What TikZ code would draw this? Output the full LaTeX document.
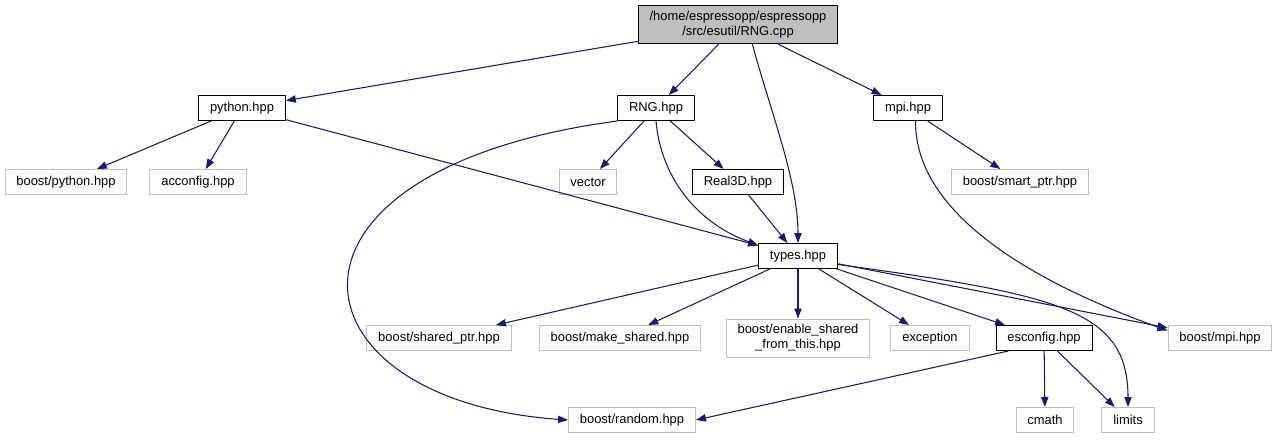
\documentclass[tikz,border=0pt]{standalone}
\usepackage{fontspec}
\setmainfont{Liberation Sans}
\usepackage{tikz}
\usepackage{xcolor}
\usetikzlibrary{arrows.meta}

\definecolor{edgeblue}{HTML}{191970}
\definecolor{extgray}{HTML}{BFBFBF}

\begin{document}
\begin{tikzpicture}[x=0.75pt, y=-0.75pt,
  every node/.style={font=\fontsize{9.7}{11.25}\selectfont, inner xsep=8.5pt, inner ysep=0pt,
                     minimum height=18.75pt, line width=0.75pt},
  filebox/.style={draw=black, fill=white},
  extbox/.style={draw=extgray, fill=white},
  dep/.style={draw=edgeblue, line width=0.8pt, -{Triangle[length=7.5pt, width=5.5pt]}, fill=none}]
  \useasboundingbox (0,0) rectangle (1277,440);
  % Source file
  \node[draw=black, fill=extgray, align=center, minimum height=29pt] (root) at (738,24.5)
    {/home/espressopp/espressopp\\/src/esutil/RNG.cpp};
  % Direct includes
  \node[filebox] (python) at (242,108) {python.hpp};
  \node[filebox] (rnghpp) at (656,108) {RNG.hpp};
  \node[filebox] (mpi) at (908,108) {mpi.hpp};
  \node[extbox] (bpython) at (66,182) {boost/python.hpp};
  \node[extbox] (acconfig) at (198,182) {acconfig.hpp};
  \node[extbox] (vector) at (588,182) {vector};
  \node[filebox] (real3d) at (738,182) {Real3D.hpp};
  \node[extbox] (smartptr) at (1020,182) {boost/smart\_ptr.hpp};
  \node[filebox] (types) at (798,256) {types.hpp};
  % Includes of types.hpp
  \node[extbox] (sharedptr) at (439,338) {boost/shared\_ptr.hpp};
  \node[extbox] (makeshared) at (620,338) {boost/make\_shared.hpp};
  \node[extbox, align=center, minimum height=28.5pt] (enable) at (798,338)
    {boost/enable\_shared\\\_from\_this.hpp};
  \node[extbox] (exception) at (930,338) {exception};
  \node[filebox] (esconfig) at (1044,338) {esconfig.hpp};
  \node[extbox] (bmpi) at (1220,338) {boost/mpi.hpp};
  \node[extbox] (random) at (632,420) {boost/random.hpp};
  \node[extbox] (cmath) at (1045,420) {cmath};
  \node[extbox] (limits) at (1128,420) {limits};

  % Edges
  \draw[dep] (root) -- (python);
  \draw[dep] (root) -- (rnghpp);
  \draw[dep] (root.-54) .. controls (770,110) and (798,180) .. (types.north);
  \draw[dep] (root) -- (mpi);
  \draw[dep] (python) -- (bpython);
  \draw[dep] (python) -- (acconfig);
  \draw[dep] (python) -- (types);
  \draw[dep] (rnghpp.south west) .. controls (250,170) and (285,400) .. (random.west);
  \draw[dep] (rnghpp) -- (vector);
  \draw[dep] (rnghpp.south) .. controls (660,170) and (690,220) .. (types.165);
  \draw[dep] (rnghpp) -- (real3d);
  \draw[dep] (real3d) -- (types);
  \draw[dep] (mpi.-60) .. controls (915,200) and (1000,270) .. (bmpi.172);
  \draw[dep] (mpi) -- (smartptr);
  \draw[dep] (types) -- (sharedptr);
  \draw[dep] (types) -- (makeshared);
  \draw[dep] (types) -- (enable);
  \draw[dep] (types) -- (exception);
  \draw[dep] (types) -- (esconfig);
  \draw[dep] (types.-12) .. controls (1060,295) and (1128,310) .. (limits.north);
  \draw[dep] (types) -- (bmpi);
  \draw[dep] (esconfig.200) -- (random.east);
  \draw[dep] (esconfig) -- (cmath);
  \draw[dep] (esconfig) -- (limits);
\end{tikzpicture}
\end{document}
